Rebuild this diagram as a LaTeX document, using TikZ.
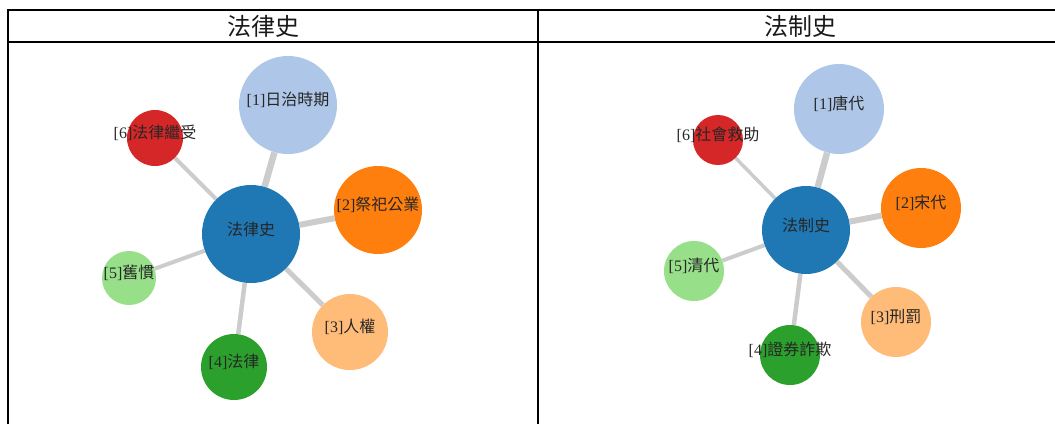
\documentclass[tikz,border=0pt]{standalone}
\usepackage{fontspec}
\setmainfont{Liberation Serif}
\newfontfamily\cjk{Noto Sans CJK TC}
\usetikzlibrary{backgrounds}

\definecolor{hub}{HTML}{1F77B4}
\definecolor{blueL}{HTML}{AEC7E8}
\definecolor{orangeD}{HTML}{FF7F0E}
\definecolor{orangeL}{HTML}{FFBB78}
\definecolor{greenD}{HTML}{2CA02C}
\definecolor{greenL}{HTML}{98DF8A}
\definecolor{redD}{HTML}{D62728}
\definecolor{linkgray}{HTML}{CCCCCC}

\newcommand{\lbl}[2]{[#1]{\cjk #2}}

\begin{document}
\begin{tikzpicture}[x=1pt,y=-1pt,
    bubble/.style={circle,inner sep=0pt,draw=none,minimum size=#1},
    link/.style={draw=linkgray,line width=#1},
    word/.style={font=\fontsize{16}{16}\selectfont,text=black!85,inner sep=0pt},
    head/.style={font=\cjk\fontsize{24}{24}\selectfont,text=black!90,inner sep=0pt}]
  \useasboundingbox (0,0) rectangle (1055,424);

  % table frame
  \draw[line width=2pt] (8,424) -- (8,10) -- (1055,10);
  \draw[line width=2pt] (538,10) -- (538,424);
  \draw[line width=1.5pt] (8,42) -- (1055,42);
  \node[head] (headA) at (263,26) {法律史};
  \node[head] (headB) at (800,26) {法制史};

  % left panel
  \node[bubble=98,fill=hub] (law) at (251,234) {};
  \node[bubble=98,fill=blueL] (l1) at (288,105) {};
  \node[bubble=88,fill=orangeD] (l2) at (378,210) {};
  \node[bubble=76,fill=orangeL] (l3) at (350,332) {};
  \node[bubble=66,fill=greenD] (l4) at (234,367) {};
  \node[bubble=54,fill=greenL] (l5) at (129,278) {};
  \node[bubble=56,fill=redD] (l6) at (155,138) {};

  \node[word] (law-t) at ([yshift=5pt]law) {\cjk 法律史};
  \node[word] (l1-t) at ([yshift=5pt]l1) {\lbl{1}{日治時期}};
  \node[word] (l2-t) at ([yshift=5pt]l2) {\lbl{2}{祭祀公業}};
  \node[word] (l3-t) at ([yshift=5pt]l3) {\lbl{3}{人權}};
  \node[word] (l4-t) at ([yshift=5pt]l4) {\lbl{4}{法律}};
  \node[word] (l5-t) at ([yshift=5pt]l5) {\lbl{5}{舊慣}};
  \node[word] (l6-t) at ([yshift=5pt]l6) {\lbl{6}{法律繼受}};

  % right panel
  \node[bubble=88,fill=hub] (sys) at (806,230) {};
  \node[bubble=90,fill=blueL] (r1) at (839,109) {};
  \node[bubble=80,fill=orangeD] (r2) at (921,208) {};
  \node[bubble=70,fill=orangeL] (r3) at (896,322) {};
  \node[bubble=60,fill=greenD] (r4) at (790,355) {};
  \node[bubble=60,fill=greenL] (r5) at (694,271) {};
  \node[bubble=50,fill=redD] (r6) at (718,140) {};

  \node[word] (sys-t) at ([yshift=5pt]sys) {\cjk 法制史};
  \node[word] (r1-t) at ([yshift=5pt]r1) {\lbl{1}{唐代}};
  \node[word] (r2-t) at ([yshift=5pt]r2) {\lbl{2}{宋代}};
  \node[word] (r3-t) at ([yshift=5pt]r3) {\lbl{3}{刑罰}};
  \node[word] (r4-t) at ([yshift=5pt]r4) {\lbl{4}{證券詐欺}};
  \node[word] (r5-t) at ([yshift=5pt]r5) {\lbl{5}{清代}};
  \node[word] (r6-t) at ([yshift=5pt]r6) {\lbl{6}{社會救助}};

  % links behind the bubbles
  \begin{scope}[on background layer]
    \draw[link=6.5pt] (law) -- (l1);
    \draw[link=6pt] (law) -- (l2);
    \draw[link=5pt] (law) -- (l3);
    \draw[link=4.5pt] (law) -- (l4);
    \draw[link=4pt] (law) -- (l5);
    \draw[link=4pt] (law) -- (l6);
    \draw[link=6.5pt] (sys) -- (r1);
    \draw[link=6pt] (sys) -- (r2);
    \draw[link=5pt] (sys) -- (r3);
    \draw[link=4.5pt] (sys) -- (r4);
    \draw[link=4pt] (sys) -- (r5);
    \draw[link=3.5pt] (sys) -- (r6);
  \end{scope}
\end{tikzpicture}
\end{document}
